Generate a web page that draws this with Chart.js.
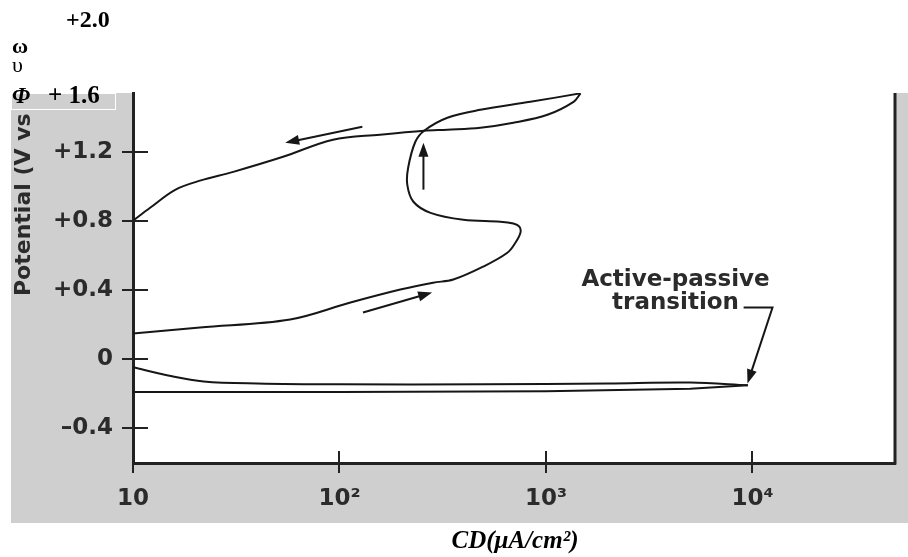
<!DOCTYPE html>
<html>
<head>
<meta charset="utf-8">
<style>
  html, body { margin: 0; padding: 0; background: #fff; }
  #wrap { width: 908px; height: 557px; position: relative; }
</style>
<script src="https://cdn.jsdelivr.net/npm/chart.js@4.4.1/dist/chart.umd.min.js"></script>
</head>
<body>
<div id="wrap"><canvas id="c" width="908" height="557"></canvas></div>
<script>
// Anodic polarization curve: potential (V) against current density (µA/cm²)
const xTicks = [10, 100, 1000, 10000];
const xTickLabels = ['10', '10²', '10³', '10⁴'];
const yTicks = [-0.4, 0, 0.4, 0.8, 1.2];
const yTickLabels = ['–0.4', '0', '+0.4', '+0.8', '+1.2'];

// bottom line out to the active-passive transition
const lowerCD = [10, 100, 1000, 5000, 9500];
const lowerE  = [-0.19, -0.19, -0.185, -0.17, -0.15];

// return from the transition towards the left axis
const upperCD = [9500, 5000, 2000, 500, 100, 40, 22, 15, 10];
const upperE  = [-0.15, -0.135, -0.14, -0.145, -0.145, -0.14, -0.128, -0.095, -0.046];

// forward scan up to the tip of the loop
const forwardCD = [10, 21.1, 57.7, 113, 197, 284, 356, 497, 650, 711, 752, 743, 695, 601, 398, 276, 228, 213, 215, 233, 257, 333, 481, 840, 1470];
const forwardE  = [0.149, 0.184, 0.230, 0.328, 0.403, 0.443, 0.461, 0.536, 0.616, 0.674, 0.732, 0.767, 0.785, 0.796, 0.807, 0.847, 0.911, 1.009, 1.108, 1.258, 1.322, 1.397, 1.443, 1.489, 1.538];

// reverse scan from the loop tip back to the left axis
const reverseCD = [1470, 1360, 1016, 695, 481, 333, 257, 157, 93, 53.3, 30.6, 21.1, 16.0, 12.1, 10];
const reverseE  = [1.538, 1.489, 1.414, 1.368, 1.339, 1.328, 1.322, 1.299, 1.270, 1.171, 1.084, 1.033, 0.980, 0.876, 0.801];

const toPoints = (xs, ys) => xs.map((x, i) => ({ x: x, y: ys[i] }));

// direction arrows, in data coordinates
const arrows = [
  { from: [129, 1.345], to: [54.6, 1.252] },
  { from: [255, 0.981], to: [255, 1.252] },
  { from: [130, 0.270], to: [281, 0.386] }
];
// callout for the transition
const callout = {
  lines: ['Active-passive', 'transition'],
  at: [4240, 0.461, 0.328],
  leader: [[9060, 0.299], [12500, 0.299], [9460, -0.14]]
};

const INK = '#161616';
const AXIS = '#222';
const LABEL = '#2b2b2b';
const SANS = "'DejaVu Sans', Verdana, sans-serif";
const SERIF = "'Liberation Serif', 'Times New Roman', serif";

function arrowHead(ctx, x0, y0, x1, y1, len, half) {
  const ang = Math.atan2(y1 - y0, x1 - x0);
  ctx.beginPath();
  ctx.moveTo(x1, y1);
  ctx.lineTo(x1 - len * Math.cos(ang) + half * Math.sin(ang), y1 - len * Math.sin(ang) - half * Math.cos(ang));
  ctx.lineTo(x1 - len * Math.cos(ang) - half * Math.sin(ang), y1 - len * Math.sin(ang) + half * Math.cos(ang));
  ctx.closePath();
  ctx.fill();
}

const figurePlugin = {
  id: 'figure',
  beforeDraw(chart) {
    const { ctx, chartArea: a } = chart;
    ctx.save();
    ctx.fillStyle = '#fff';
    ctx.fillRect(0, 0, chart.width, chart.height);
    ctx.fillStyle = '#cfcfcf';
    ctx.fillRect(11, a.top, chart.width - 11, 523 - a.top);
    ctx.fillStyle = '#fff';
    ctx.fillRect(a.left, a.top, a.right - a.left, a.bottom - a.top);
    ctx.restore();
  },
  afterDraw(chart) {
    const { ctx, chartArea: a, scales: { x, y } } = chart;
    const px = v => x.getPixelForValue(v);
    const py = v => y.getPixelForValue(v);
    ctx.save();

    // inner halves of the tick marks and the right frame
    ctx.strokeStyle = AXIS;
    ctx.lineWidth = 2;
    ctx.beginPath();
    yTicks.forEach(v => { const p = Math.round(py(v)); ctx.moveTo(a.left, p); ctx.lineTo(a.left + 15, p); });
    xTicks.forEach(v => { const p = Math.round(px(v)); ctx.moveTo(p, a.bottom); ctx.lineTo(p, a.bottom - 12); });
    ctx.stroke();
    ctx.lineWidth = 3;
    ctx.beginPath();
    ctx.moveTo(a.right, a.top);
    ctx.lineTo(a.right, a.bottom + 1.5);
    ctx.stroke();

    // direction arrows
    ctx.strokeStyle = INK;
    ctx.fillStyle = INK;
    ctx.lineWidth = 2;
    arrows.forEach(ar => {
      const x0 = px(ar.from[0]), y0 = py(ar.from[1]);
      const x1 = px(ar.to[0]), y1 = py(ar.to[1]);
      const ang = Math.atan2(y1 - y0, x1 - x0);
      ctx.beginPath();
      ctx.moveTo(x0, y0);
      ctx.lineTo(x1 - 8 * Math.cos(ang), y1 - 8 * Math.sin(ang));
      ctx.stroke();
      arrowHead(ctx, x0, y0, x1, y1, 14, 5);
    });

    // transition callout
    ctx.font = `bold 23px ${SANS}`;
    ctx.fillStyle = LABEL;
    ctx.textAlign = 'center';
    ctx.textBaseline = 'middle';
    ctx.fillText(callout.lines[0], px(callout.at[0]), py(callout.at[1]));
    ctx.fillText(callout.lines[1], px(callout.at[0]), py(callout.at[2]));
    const L = callout.leader.map(p => [px(p[0]), py(p[1])]);
    ctx.strokeStyle = INK;
    ctx.fillStyle = INK;
    ctx.lineWidth = 2;
    ctx.beginPath();
    ctx.moveTo(L[0][0], L[0][1]);
    ctx.lineTo(L[1][0], L[1][1]);
    const ang = Math.atan2(L[2][1] - L[1][1], L[2][0] - L[1][0]);
    ctx.lineTo(L[2][0] - 8 * Math.cos(ang), L[2][1] - 8 * Math.sin(ang));
    ctx.stroke();
    arrowHead(ctx, L[1][0], L[1][1], L[2][0], L[2][1], 14, 5);

    // vertical axis title, cut off at the top of the panel
    ctx.save();
    ctx.beginPath();
    ctx.rect(0, a.top, a.left, a.bottom - a.top);
    ctx.clip();
    ctx.translate(30, 296);
    ctx.rotate(-Math.PI / 2);
    ctx.font = `bold 22px ${SANS}`;
    ctx.fillStyle = LABEL;
    ctx.textAlign = 'left';
    ctx.textBaseline = 'alphabetic';
    ctx.fillText('Potential (V vs', 0, 0);
    ctx.restore();

    // label box at the top-left corner
    ctx.fillStyle = '#cfcfcf';
    ctx.fillRect(12, 93, 104, 16);
    ctx.strokeStyle = '#fff';
    ctx.lineWidth = 1;
    ctx.strokeRect(11.5, 93.5, 104, 16);

    ctx.fillStyle = '#000';
    ctx.textAlign = 'left';
    ctx.textBaseline = 'alphabetic';
    ctx.font = `bold 24px ${SERIF}`;
    ctx.fillText('+2.0', 66, 27);
    ctx.font = `bold 22px ${SERIF}`;
    ctx.fillText('ω', 12, 53);
    ctx.font = `22px ${SERIF}`;
    ctx.fillText('υ', 12, 72);
    ctx.font = `italic bold 23px ${SERIF}`;
    ctx.fillText('Φ', 12, 103);
    ctx.font = `bold 25px ${SERIF}`;
    ctx.fillText('+ 1.6', 48, 103);

    // horizontal axis title
    ctx.font = `italic bold 25px ${SERIF}`;
    ctx.textAlign = 'center';
    ctx.fillText('CD(μA/cm²)', 515, 548);

    ctx.restore();
  }
};

const lineStyle = { borderColor: INK, borderWidth: 2, pointRadius: 0, showLine: true, fill: false };

new Chart(document.getElementById('c'), {
  type: 'scatter',
  data: {
    datasets: [
      Object.assign({ label: 'lower', data: toPoints(lowerCD, lowerE), tension: 0 }, lineStyle),
      Object.assign({ label: 'upper', data: toPoints(upperCD, upperE), tension: 0.35 }, lineStyle),
      Object.assign({ label: 'forward', data: toPoints(forwardCD, forwardE), tension: 0.35 }, lineStyle),
      Object.assign({ label: 'reverse', data: toPoints(reverseCD, reverseE), tension: 0.35 }, lineStyle)
    ]
  },
  options: {
    responsive: false,
    animation: false,
    devicePixelRatio: 1,
    layout: { padding: { left: 0, right: 13, top: 93, bottom: 0 } },
    plugins: { legend: { display: false }, tooltip: { enabled: false } },
    scales: {
      x: {
        type: 'logarithmic',
        min: 10,
        max: 49000,
        afterBuildTicks: s => { s.ticks = xTicks.map(v => ({ value: v })); },
        afterFit: s => { s.height = 94; },
        ticks: {
          autoSkip: false,
          maxRotation: 0,
          padding: 12,
          color: LABEL,
          font: { family: SANS, weight: 'bold', size: 23 },
          callback: v => xTickLabels[xTicks.indexOf(v)]
        },
        grid: { drawOnChartArea: false, drawTicks: true, tickLength: 10, color: AXIS, lineWidth: 2 },
        border: { display: true, color: AXIS, width: 3 }
      },
      y: {
        type: 'linear',
        min: -0.6,
        max: 1.54,
        afterBuildTicks: s => { s.ticks = yTicks.map(v => ({ value: v })); },
        afterFit: s => { s.width = 133; },
        ticks: {
          padding: 9,
          color: LABEL,
          font: { family: SANS, weight: 'bold', size: 23 },
          callback: v => yTickLabels[yTicks.indexOf(v)]
        },
        grid: { drawOnChartArea: false, drawTicks: true, tickLength: 11, color: AXIS, lineWidth: 2 },
        border: { display: true, color: AXIS, width: 3 }
      }
    }
  },
  plugins: [figurePlugin]
});
</script>
</body>
</html>
